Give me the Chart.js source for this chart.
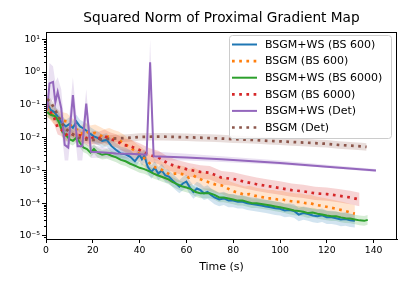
<!DOCTYPE html>
<html>
<head>
<meta charset="utf-8">
<script src="https://cdn.jsdelivr.net/npm/chart.js@4.4.0/dist/chart.umd.min.js"></script>
<style>
  html, body { margin: 0; padding: 0; background: #fff; }
  canvas { display: block; }
</style>
</head>
<body>
<canvas id="chart" width="409" height="286" style="width:409px;height:286px"></canvas>
<script>
// BSGM+WS (BS 600)
const blueT = [0.5, 2, 3.5, 5, 6.5, 8.5, 10, 11.5, 13, 14.5, 16, 17.5, 19, 20.5, 22, 24, 26, 28, 30, 32, 34, 36, 38, 40, 41, 42, 43.5, 45, 46.5, 48, 49.5, 51, 52.5, 54, 55.5, 57, 58.5, 60, 61.5, 63, 64.5, 66, 67.5, 69, 70.5, 72, 74, 76, 78, 80, 82, 84, 86, 88, 90, 92, 94, 96, 98, 100, 102, 104, 106, 108, 110, 112, 114, 116, 118, 120, 122, 124, 126, 128, 130, 132];
const blueY = [0.11, 0.07, 0.06, 0.045, 0.03, 0.022, 0.026, 0.02, 0.031, 0.022, 0.019, 0.016, 0.013, 0.011, 0.0098, 0.008, 0.0085, 0.0055, 0.0042, 0.0033, 0.0031, 0.0026, 0.0019, 0.003, 0.0022, 0.0028, 0.0013, 0.0009, 0.0012, 0.0008, 0.001, 0.0007, 0.00065, 0.0005, 0.0004, 0.00032, 0.0004, 0.00046, 0.0003, 0.00022, 0.00028, 0.00025, 0.0002, 0.00022, 0.00018, 0.00015, 0.00013, 0.00014, 0.00012, 0.00012, 0.00011, 0.00011, 0.0001, 0.000095, 0.00009, 0.000085, 0.00008, 0.000075, 0.00007, 0.000068, 0.00006, 0.000062, 0.000058, 0.000045, 0.00005, 0.000047, 0.000042, 0.00004, 0.000043, 0.000037, 0.000037, 0.000035, 0.000032, 0.000033, 0.00003, 0.000029];

// BSGM (BS 600)
const orangeT = [0.5, 2, 3.5, 5, 7, 9, 11, 13, 15, 17, 19, 21, 23, 25, 27, 29, 31, 33, 35, 37, 39, 41, 43, 45, 47, 49, 51, 53, 55, 57, 59, 61, 63, 65, 67, 69, 71, 73, 75, 77, 79, 81, 83, 85, 87, 89, 91, 93, 95, 97, 99, 101, 103, 105, 107, 109, 111, 113, 115, 117, 119, 121, 123, 125, 127, 129, 131, 132];
const orangeY = [0.08, 0.06, 0.045, 0.04, 0.033, 0.031, 0.022, 0.018, 0.013, 0.016, 0.013, 0.014, 0.012, 0.01, 0.011, 0.0095, 0.0085, 0.007, 0.0055, 0.0045, 0.0035, 0.0028, 0.002, 0.0015, 0.0012, 0.0011, 0.0009, 0.00075, 0.0008, 0.0008, 0.00075, 0.0006, 0.0007, 0.00058, 0.0005, 0.00045, 0.0004, 0.00036, 0.00035, 0.0003, 0.00025, 0.00022, 0.0002, 0.00018, 0.00019, 0.00017, 0.00016, 0.00015, 0.00014, 0.00014, 0.00013, 0.00013, 0.00012, 0.000115, 0.00011, 0.00011, 0.0001, 0.0001, 0.00009, 0.000085, 0.00008, 0.000075, 0.00007, 0.000065, 0.00006, 0.000055, 0.00005, 0.000048];

// BSGM+WS (BS 6000)
const greenT = [0.5, 2, 4, 5.5, 7, 8.5, 10, 11.5, 13, 14.5, 16, 17.5, 19, 20.5, 22, 24, 26, 28, 30, 32, 34, 36, 38, 40, 42, 44, 46, 48, 50, 52, 54, 56, 58, 60, 62, 64, 66, 68, 70, 72, 74, 76, 78, 80, 82, 84, 86, 88, 90, 92, 94, 96, 98, 100, 102, 104, 106, 108, 110, 112, 114, 116, 118, 120, 122, 124, 126, 128, 130, 132, 134, 136, 137.5];
const greenY = [0.06, 0.05, 0.045, 0.03, 0.015, 0.012, 0.009, 0.008, 0.01, 0.007, 0.005, 0.0045, 0.0035, 0.0045, 0.0035, 0.003, 0.0032, 0.0028, 0.0025, 0.0021, 0.0019, 0.0016, 0.0014, 0.0012, 0.0011, 0.00095, 0.0008, 0.0007, 0.00062, 0.00055, 0.00045, 0.00038, 0.00033, 0.0003, 0.00027, 0.00022, 0.0002, 0.0002, 0.0002, 0.00018, 0.00015, 0.00015, 0.00014, 0.00013, 0.00012, 0.00012, 0.00011, 0.0001, 0.0001, 0.000095, 0.00009, 0.000085, 0.00008, 0.000075, 0.00007, 0.000065, 0.00006, 0.000058, 0.000055, 0.00005, 0.000052, 0.000048, 0.000045, 0.000042, 0.00004, 0.00004, 0.000037, 0.000035, 0.000034, 0.000032, 0.00003, 0.000029, 0.000031];

// BSGM (BS 6000)
const redT = [0.5, 2, 3.5, 5, 6.5, 8.5, 10, 12, 14, 16, 18.5, 20, 22.5, 25, 27.5, 30, 33, 36, 40, 44, 48, 52, 56, 61, 66, 70, 75, 80, 85, 90, 95, 100, 105, 110, 115, 120, 125, 130, 134];
const redY = [0.1, 0.06, 0.04, 0.02, 0.018, 0.012, 0.014, 0.012, 0.012, 0.011, 0.0085, 0.01, 0.0095, 0.011, 0.009, 0.008, 0.006, 0.0055, 0.0042, 0.003, 0.0025, 0.00165, 0.0013, 0.00105, 0.0009, 0.00085, 0.0006, 0.00055, 0.00045, 0.00038, 0.00033, 0.00029, 0.00025, 0.00023, 0.0002, 0.00019, 0.00017, 0.00015, 0.00013];

// BSGM+WS (Det)
const purpleT = [0.5, 1.5, 3, 4, 5, 6.5, 8, 9.5, 11.5, 13.5, 15.5, 17.2, 19.2, 25, 30, 35, 40, 43, 44.5, 46, 60, 75, 100, 120, 141];
const purpleY = [0.07, 0.45, 0.5, 0.12, 0.25, 0.08, 0.006, 0.005, 0.2, 0.0055, 0.0055, 0.11, 0.0037, 0.0035, 0.0033, 0.0032, 0.0031, 0.003, 2.0, 0.0027, 0.0025, 0.0022, 0.0017, 0.0013, 0.001];
const purpleHi = [0.2, 1.9, 1.5, 0.5, 0.7, 0.3, 0.02, 0.02, 0.7, 0.02, 0.015, 0.3, 0.006, 0.005, 0.0045, 0.0043, 0.0042, 0.004, 10, 0.0038, 0.0032, 0.0027, 0.002, 0.0015, 0.0011];
const purpleLo = [0.02, 0.1, 0.15, 0.03, 0.06, 0.02, 0.002, 0.002, 0.05, 0.002, 0.002, 0.03, 0.0024, 0.0025, 0.0024, 0.0023, 0.0023, 0.0022, 0.4, 0.002, 0.002, 0.0018, 0.0015, 0.0012, 0.0009];

// BSGM (Det)
const brownT = [0.5, 2, 3.5, 5, 6.5, 8, 10, 12, 14, 16, 18, 20, 25, 30, 35, 40, 45, 50, 55, 60, 65, 70, 75, 80, 85, 90, 95, 100, 105, 110, 115, 120, 125, 130, 135, 137];
const brownY = [0.15, 0.12, 0.08, 0.05, 0.03, 0.02, 0.015, 0.012, 0.01, 0.009, 0.0085, 0.0085, 0.009, 0.0095, 0.0098, 0.0105, 0.0107, 0.0107, 0.0105, 0.0103, 0.01, 0.0097, 0.0094, 0.009, 0.0087, 0.0084, 0.008, 0.0077, 0.0074, 0.0071, 0.0068, 0.0065, 0.006, 0.0057, 0.0054, 0.0052];

// band widths (multiplicative) for the shaded spread
const blueSpread = 1.6;
const orangeSpread = 1.8;
const greenSpread = 1.4;
const redSpread = 1.6;
const brownSpread = 1.3;

const xTicks = [0, 20, 40, 60, 80, 100, 120, 140];
const yExps = [-5, -4, -3, -2, -1, 0, 1];

const FONT = "'DejaVu Sans', sans-serif";
const sup = { "-": "\u207B", "0": "\u2070", "1": "\u00B9", "2": "\u00B2", "3": "\u00B3", "4": "\u2074", "5": "\u2075" };

function pts(t, y) {
  return t.map((x, i) => ({ x: x, y: y[i] }));
}
function band(t, y, f) {
  return {
    hi: t.map((x, i) => ({ x: x, y: y[i] * f })),
    lo: t.map((x, i) => ({ x: x, y: y[i] / f })),
  };
}

const series = [
  { label: "BSGM+WS (BS 600)", color: "#1f77b4", fill: "rgba(31,119,180,0.2)", t: blueT, y: blueY, dotted: false, b: band(blueT, blueY, blueSpread), order: 6 },
  { label: "BSGM (BS 600)", color: "#ff7f0e", fill: "rgba(255,127,14,0.2)", t: orangeT, y: orangeY, dotted: true, b: band(orangeT, orangeY, orangeSpread), order: 5 },
  { label: "BSGM+WS (BS 6000)", color: "#2ca02c", fill: "rgba(44,160,44,0.2)", t: greenT, y: greenY, dotted: false, b: band(greenT, greenY, greenSpread), order: 4 },
  { label: "BSGM (BS 6000)", color: "#d62728", fill: "rgba(214,39,40,0.2)", t: redT, y: redY, dotted: true, b: band(redT, redY, redSpread), order: 3 },
  { label: "BSGM+WS (Det)", color: "#9467bd", fill: "rgba(148,103,189,0.2)", t: purpleT, y: purpleY, dotted: false, b: { hi: pts(purpleT, purpleHi), lo: pts(purpleT, purpleLo) }, order: 2 },
  { label: "BSGM (Det)", color: "#8c564b", fill: "rgba(140,86,75,0.2)", t: brownT, y: brownY, dotted: true, b: band(brownT, brownY, brownSpread), order: 1 },
];

const datasets = [];
series.forEach((s) => {
  datasets.push({
    label: s.label,
    data: pts(s.t, s.y),
    borderColor: s.color,
    borderWidth: s.dotted ? 2.7 : 2,
    borderDash: s.dotted ? [2.7, 4.5] : [],
    pointRadius: 0,
    fill: false,
    tension: 0,
    order: s.order,
  });
});
series.forEach((s, k) => {
  datasets.push({
    label: "hi" + k,
    data: s.b.hi,
    borderWidth: 0,
    pointRadius: 0,
    fill: false,
    order: 20 + k,
  });
  datasets.push({
    label: "lo" + k,
    data: s.b.lo,
    borderWidth: 0,
    pointRadius: 0,
    backgroundColor: s.fill,
    fill: "-1",
    order: 20 + k,
  });
});

const framePlugin = {
  id: "frame",
  afterDraw(chart) {
    const { ctx, chartArea: a, scales } = chart;
    ctx.save();
    ctx.strokeStyle = "#000";
    ctx.lineWidth = 1;
    ctx.strokeRect(a.left + 0.5, a.top + 0.5, a.right - a.left - 1, a.bottom - a.top);
    // minor ticks on log axis
    const ys = scales.y;
    ctx.beginPath();
    for (let e = -6; e <= 1; e++) {
      for (let m = 2; m <= 9; m++) {
        const v = m * Math.pow(10, e);
        if (v < ys.min || v > ys.max) continue;
        const py = Math.round(ys.getPixelForValue(v)) + 0.5;
        ctx.moveTo(a.left, py);
        ctx.lineTo(a.left - 2, py);
      }
    }
    ctx.stroke();

    // title
    ctx.fillStyle = "#000";
    ctx.font = "13.7px " + FONT;
    ctx.textAlign = "center";
    ctx.textBaseline = "middle";
    ctx.fillText("Squared Norm of Proximal Gradient Map", (a.left + a.right) / 2, 18);

    // legend
    const bx = 229, by = 35, bw = 162, bh = 103;
    ctx.fillStyle = "rgba(255,255,255,0.8)";
    ctx.strokeStyle = "#cccccc";
    ctx.beginPath();
    ctx.roundRect(bx + 0.5, by + 0.5, bw, bh, 3);
    ctx.fill();
    ctx.stroke();
    ctx.font = "11px " + FONT;
    ctx.textBaseline = "middle";
    ctx.textAlign = "left";
    series.forEach((s, i) => {
      const cy = 44.5 + i * 16.6;
      ctx.strokeStyle = s.color;
      ctx.lineWidth = s.dotted ? 2.7 : 2;
      ctx.setLineDash(s.dotted ? [2.7, 4.5] : []);
      ctx.beginPath();
      ctx.moveTo(232, cy);
      ctx.lineTo(257, cy);
      ctx.stroke();
      ctx.setLineDash([]);
      ctx.fillStyle = "#000";
      ctx.fillText(s.label, 265, cy + 0.5);
    });
    ctx.restore();
  },
};

new Chart(document.getElementById("chart"), {
  type: "line",
  data: { datasets: datasets },
  options: {
    responsive: false,
    devicePixelRatio: 1,
    animation: false,
    layout: { padding: { left: 0, right: 12, top: 32, bottom: 0 } },
    plugins: {
      legend: { display: false },
      tooltip: { enabled: false },
      title: { display: false },
    },
    scales: {
      x: {
        type: "linear",
        min: 0,
        max: 150,
        afterBuildTicks: (sc) => { sc.ticks = xTicks.map((v) => ({ value: v })); },
        afterFit: (sc) => { sc.height = 47; },
        grid: { display: true, drawOnChartArea: false, drawTicks: true, tickLength: 4, color: "#000" },
        border: { display: true, color: "#000" },
        ticks: { color: "#000", font: { family: FONT, size: 9.3 }, padding: 2, maxRotation: 0 },
        title: {
          display: true,
          text: "Time (s)",
          color: "#000",
          font: { family: FONT, size: 11 },
          padding: { top: 0, bottom: 12 },
        },
      },
      y: {
        type: "logarithmic",
        min: 8.1e-6,
        max: 16.7,
        afterBuildTicks: (sc) => { sc.ticks = yExps.map((e) => ({ value: Math.pow(10, e) })); },
        afterFit: (sc) => { sc.width = 46; },
        grid: { display: true, drawOnChartArea: false, drawTicks: true, tickLength: 4, color: "#000" },
        border: { display: true, color: "#000" },
        ticks: {
          color: "#000",
          font: { family: FONT, size: 9.3 },
          padding: 2,
          callback: (v) => {
            const e = String(Math.round(Math.log10(v)));
            return "10" + e.split("").map((c) => sup[c]).join("");
          },
        },
      },
    },
  },
  plugins: [framePlugin],
});
</script>
</body>
</html>
